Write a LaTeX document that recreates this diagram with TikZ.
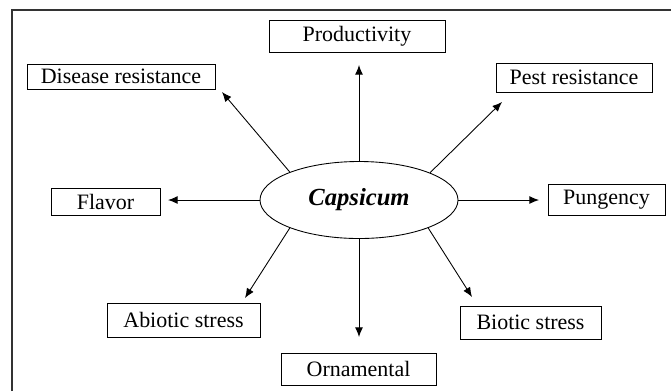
\documentclass[tikz,border=0pt]{standalone}
\usepackage{fontspec}
\setmainfont{Liberation Serif}
\usetikzlibrary{arrows.meta,shapes.geometric}
\tikzset{
  trait/.style={draw,line width=0.5pt,inner sep=0pt,font=\fontsize{12.5}{14}\selectfont},
  crop/.style={draw,ellipse,line width=0.5pt,inner sep=0pt,minimum width=39.6mm,minimum height=15.4mm,font=\fontsize{14}{16}\selectfont\bfseries\itshape},
  link/.style={-{Latex[length=5.5pt,width=4.5pt]},line width=0.5pt}
}
\newcommand{\tip}[2]{\coordinate (#1) at (#2);}

\begin{document}
\begin{tikzpicture}[x=0.2mm,y=-0.2mm]
    \useasboundingbox (0,0) rectangle (671,391);
    \draw[line width=0.8pt,black!80] (12,391) -- (12,10) -- (671,10);
    % centre
    \node[crop] (cap) at (359,200) {Capsicum};
    % traits
    \node[trait,minimum width=35.2mm,minimum height=6.4mm] (prod) at (357,36) {Productivity};
    \node[trait,minimum width=37.6mm,minimum height=5mm] (dis) at (121,76.5) {Disease resistance};
    \node[trait,minimum width=31.2mm,minimum height=5.8mm] (pest) at (574,77.5) {Pest resistance};
    \node[trait,minimum width=21.8mm,minimum height=5.4mm] (flav) at (105.5,201.5) {Flavor};
    \node[trait,minimum width=23.4mm,minimum height=6.2mm] (pung) at (606.5,199.5) {Pungency};
    \node[trait,minimum width=30.6mm,minimum height=6.8mm] (abio) at (183.5,320) {Abiotic stress};
    \node[trait,minimum width=28.2mm,minimum height=6.6mm] (bio) at (530.5,322.5) {Biotic stress};
    \node[trait,minimum width=31mm,minimum height=6.4mm] (orn) at (358.5,369) {Ornamental};
    % arrow tips
    \tip{prod-t}{359,65}
    \tip{dis-t}{222,92}
    \tip{pest-t}{502,102}
    \tip{flav-t}{168,200}
    \tip{pung-t}{539,200}
    \tip{abio-t}{245,298}
    \tip{orn-t}{359,337}
    \tip{bio-t}{472,297}
    \draw[link] (cap.90) -- (prod-t);
    \draw[link] (cap.158) -- (dis-t);
    \draw[link] (cap.21) -- (pest-t);
    \draw[link] (cap.180) -- (flav-t);
    \draw[link] (cap.0) -- (pung-t);
    \draw[link] (cap.202) -- (abio-t);
    \draw[link] (cap.270) -- (orn-t);
    \draw[link] (cap.338.5) -- (bio-t);
  \end{tikzpicture}
\end{document}
